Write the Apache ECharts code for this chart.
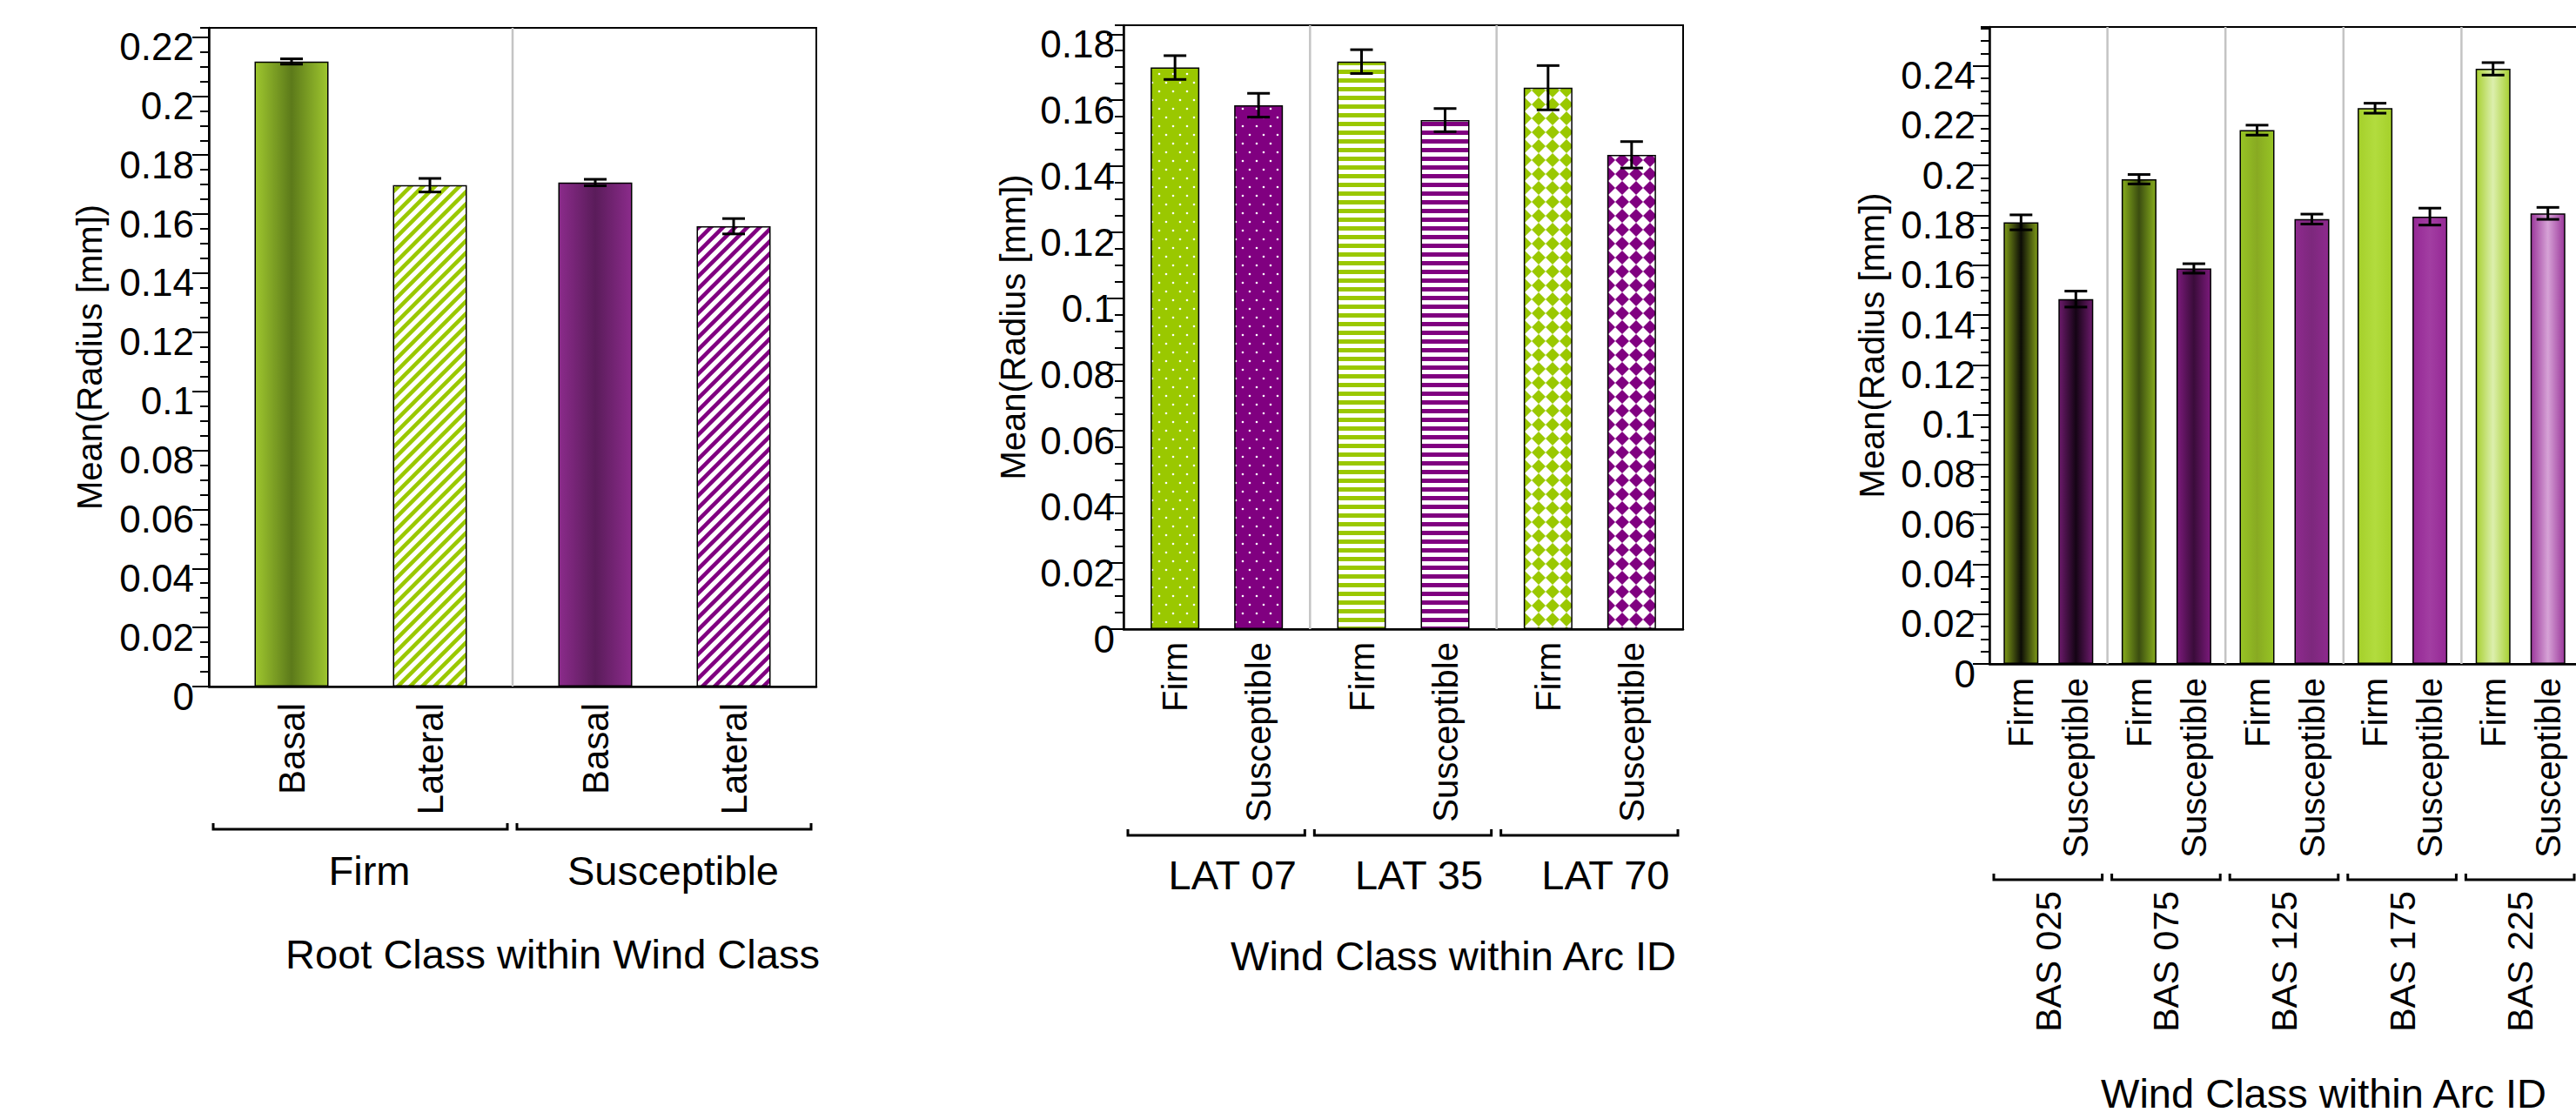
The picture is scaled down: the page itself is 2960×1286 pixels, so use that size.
<!DOCTYPE html>
<html><head><meta charset="utf-8">
<script src="https://cdn.jsdelivr.net/npm/echarts@6/dist/echarts.min.js"></script>
<style>html,body{margin:0;padding:0;background:#fff}#c{width:2960px;height:1286px}</style>
</head><body><div id="c"></div>
<script>
// ---------------- data ----------------
const p1Groups = ['Firm', 'Susceptible'];
const p1SubLabels = ['Basal', 'Lateral'];
const p1BasalMean = [0.2117, 0.1707];
const p1BasalErr = [0.0009, 0.0011];
const p1LateralMean = [0.1698, 0.1559];
const p1LateralErr = [0.0023, 0.0026];

const p2Groups = ['LAT 07', 'LAT 35', 'LAT 70'];
const p2SubLabels = ['Firm', 'Susceptible'];
const p2FirmMean = [0.1699, 0.1717, 0.1638];
const p2FirmErr = [0.0036, 0.0036, 0.0067];
const p2SuscMean = [0.1585, 0.1540, 0.1435];
const p2SuscErr = [0.0036, 0.0035, 0.0040];

const p3Groups = ['BAS 025', 'BAS 075', 'BAS 125', 'BAS 175', 'BAS 225'];
const p3SubLabels = ['Firm', 'Susceptible'];
const p3FirmMean = [0.1772, 0.1945, 0.2142, 0.2230, 0.2388];
const p3FirmErr = [0.0030, 0.0019, 0.0020, 0.0020, 0.0025];
const p3SuscMean = [0.1464, 0.1587, 0.1785, 0.1795, 0.1808];
const p3SuscErr = [0.0032, 0.0019, 0.0020, 0.0034, 0.0024];

const yTitle = 'Mean(Radius [mm])';
const xTitles = ['Root Class within Wind Class', 'Wind Class within Arc ID', 'Wind Class within Arc ID'];
const yMax = [0.2231, 0.1827, 0.2556];

// ---------------- styles ----------------
const FONT = '"Liberation Sans", Arial, Helvetica, sans-serif';
const GREEN = '#9ac800', PURPLE = '#800080';

function tile(w, h, draw) {
  const c = document.createElement('canvas'); c.width = w; c.height = h;
  draw(c.getContext('2d'));
  return { image: c.toDataURL(), repeat: 'repeat', imageWidth: w, imageHeight: h };
}
function diag(col) {
  return tile(14, 14, g => {
    g.fillStyle = '#fff'; g.fillRect(0, 0, 14, 14);
    g.strokeStyle = col; g.lineWidth = 4.5; g.beginPath();
    g.moveTo(-7, 7); g.lineTo(7, -7); g.moveTo(0, 14); g.lineTo(14, 0); g.moveTo(7, 21); g.lineTo(21, 7);
    g.stroke();
  });
}
function dots(col) {
  return tile(16, 20, g => {
    g.fillStyle = col; g.fillRect(0, 0, 16, 20); g.fillStyle = '#fff';
    [[4, 5], [12, 15]].forEach(p => { g.beginPath(); g.arc(p[0], p[1], 1.3, 0, Math.PI * 2); g.fill(); });
  });
}
function hstripe(col) {
  return tile(8, 10, g => { g.fillStyle = '#fff'; g.fillRect(0, 0, 8, 10); g.fillStyle = col; g.fillRect(0, 0, 8, 5); });
}
function diamonds(col) {
  return tile(16, 16, g => {
    g.fillStyle = '#fff'; g.fillRect(0, 0, 16, 16); g.fillStyle = col; g.beginPath();
    g.moveTo(8, 0); g.lineTo(16, 8); g.lineTo(8, 16); g.lineTo(0, 8); g.closePath(); g.fill();
  });
}
function conc(edge, center) {
  return new echarts.graphic.LinearGradient(0, 0, 1, 0, [
    { offset: 0, color: edge }, { offset: 0.5, color: center }, { offset: 1, color: edge }]);
}

const panels = [
  {
    grid: { left: 240, top: 32, width: 698, height: 757 },
    groups: p1Groups, subs: p1SubLabels,
    means: [p1BasalMean, p1LateralMean], errs: [p1BasalErr, p1LateralErr],
    fills: [[conc('#9ec62e', '#5c7a1a'), conc('#8b2b8b', '#5a1c5a')], [diag(GREEN), diag(PURPLE)]],
    barWidth: 85, spacing: 159, subFont: 42, subGap: 19,
    groupMargin: 188, groupRotate: 0, groupShift: 10, groupFont: 47,
    bracketDy: 164, labelMargin: 17, nameGap: 117,
    title: [635, 1096]
  },
  {
    grid: { left: 1291, top: 29, width: 643, height: 694 },
    groups: p2Groups, subs: p2SubLabels,
    means: [p2FirmMean, p2SuscMean], errs: [p2FirmErr, p2SuscErr],
    fills: [[dots(GREEN), hstripe(GREEN), diamonds(GREEN)], [dots(PURPLE), hstripe(PURPLE), diamonds(PURPLE)]],
    barWidth: 56, spacing: 96, subFont: 40, subGap: 15,
    groupMargin: 259, groupRotate: 0, groupShift: 18, groupFont: 47,
    bracketDy: 237, labelMargin: 10, nameGap: 107,
    title: [1670, 1098]
  },
  {
    grid: { left: 2286, top: 31, width: 678, height: 732 },
    groups: p3Groups, subs: p3SubLabels,
    means: [p3FirmMean, p3SuscMean], errs: [p3FirmErr, p3SuscErr],
    fills: [
      [conc('#7f9c18', '#0c0c06'), conc('#86ac1c', '#3b4d10'), conc('#97c424', '#88aa22'), conc('#a5d02a', '#b2dc3e'), conc('#a8d032', '#dcefad')],
      [conc('#6c1a6c', '#140414'), conc('#7c1a7c', '#3a0c3a'), conc('#8e2a8e', '#7d287d'), conc('#952895', '#a23ea2'), conc('#9b389b', '#d6a2d6')]],
    barWidth: 40, spacing: 63, subFont: 40, subGap: 16,
    groupMargin: 261, groupRotate: 90, groupShift: 0, groupFont: 41,
    bracketDy: 248, labelMargin: 16, nameGap: 115,
    title: [2670, 1256]
  }
];

const grids = [], xAxes = [], yAxes = [], series = [], graphics = [];
panels.forEach((p, i) => {
  const M = yMax[i];
  grids.push(Object.assign({ show: true, borderColor: '#000', borderWidth: 2, containLabel: false, outerBoundsMode: 'none' }, p.grid));
  xAxes.push({
    gridIndex: i, type: 'category', data: p.groups, position: 'bottom',
    axisLine: { show: true, lineStyle: { color: '#000', width: 2.5 } },
    axisTick: { show: false }, splitLine: { show: false },
    axisLabel: {
      interval: 0, margin: p.groupMargin, rotate: p.groupRotate, color: '#000',
      fontSize: p.groupFont, fontFamily: FONT, padding: [0, 0, 0, 2 * p.groupShift]
    }
  });
  yAxes.push({
    gridIndex: i, type: 'value', position: 'left', offset: 0, min: 0, max: M, interval: 0.005,
    axisLine: { show: false }, axisLabel: { show: false }, splitLine: { show: false },
    axisTick: { show: true, length: 10, lineStyle: { color: '#000', width: 2 } }
  });
  yAxes.push({
    gridIndex: i, type: 'value', position: 'left', offset: 0, min: 0, max: M, interval: 0.02,
    axisLine: { show: true, lineStyle: { color: '#000', width: 2.5 } },
    axisTick: { show: true, length: 19, lineStyle: { color: '#000', width: 2 } },
    splitLine: { show: false },
    axisLabel: {
      color: '#000', fontSize: 44, fontFamily: FONT, margin: p.labelMargin, showMaxLabel: false,
      verticalAlign: 'top', lineHeight: 22
    },
    name: yTitle, nameLocation: 'middle', nameGap: p.nameGap,
    nameTextStyle: { color: '#000', fontSize: 40, fontFamily: FONT }
  });
  const yi = 2 * i + 1;
  // separators between groups
  series.push({
    type: 'custom', xAxisIndex: i, yAxisIndex: yi, z: 1, clip: false, silent: true,
    data: p.groups.map((_, g) => [g, 0]).slice(1), encode: { x: 0, y: 1 },
    renderItem: (params, api) => {
      const g = api.value(0);
      const c0 = api.coord([g, 0]);
      const bw = api.size([1, 0])[0];
      const top = api.coord([g, M])[1];
      const x = c0[0] - bw / 2;
      return { type: 'line', shape: { x1: x, y1: c0[1], x2: x, y2: top }, style: { stroke: '#c4c4c4', lineWidth: 2.5 } };
    }
  });
  // bars
  const gapRatio = (p.spacing - p.barWidth) / p.barWidth;
  p.means.forEach((arr, s) => {
    series.push({
      type: 'bar', name: p.subs[s], xAxisIndex: i, yAxisIndex: yi, z: 2,
      barWidth: p.barWidth, barGap: (gapRatio * 100).toFixed(2) + '%',
      itemStyle: { borderColor: '#000', borderWidth: 1.5 },
      data: arr.map((v, g) => ({ value: v, itemStyle: { color: p.fills[s][g] } }))
    });
  });
  // error bars
  const errRows = [];
  p.means.forEach((arr, s) => arr.forEach((v, g) => errRows.push([g, v, p.errs[s][g], s])));
  series.push({
    type: 'custom', xAxisIndex: i, yAxisIndex: yi, z: 4, clip: false, silent: true,
    data: errRows, encode: { x: 0, y: 1 },
    renderItem: (params, api) => {
      const g = api.value(0), v = api.value(1), e = api.value(2), s = api.value(3);
      const x = api.coord([g, v])[0] + (s === 0 ? -1 : 1) * p.spacing / 2;
      const y1 = api.coord([g, v + e])[1], y2 = api.coord([g, v - e])[1];
      const st = { stroke: '#000', lineWidth: 3 };
      return {
        type: 'group', children: [
          { type: 'line', shape: { x1: x, y1: y1, x2: x, y2: y2 }, style: st },
          { type: 'line', shape: { x1: x - 13, y1: y1, x2: x + 13, y2: y1 }, style: st },
          { type: 'line', shape: { x1: x - 13, y1: y2, x2: x + 13, y2: y2 }, style: st }
        ]
      };
    }
  });
  // sub labels + brackets
  series.push({
    type: 'custom', xAxisIndex: i, yAxisIndex: yi, z: 4, clip: false, silent: true,
    data: p.groups.map((_, g) => [g, 0]), encode: { x: 0, y: 1 },
    renderItem: (params, api) => {
      const g = api.value(0);
      const c0 = api.coord([g, 0]);
      const bw = api.size([1, 0])[0];
      const children = [];
      p.subs.forEach((lab, s) => {
        const x = c0[0] + (s === 0 ? -1 : 1) * p.spacing / 2;
        const y = c0[1] + p.subGap;
        children.push({
          type: 'text', x: x, y: y, rotation: Math.PI / 2,
          style: { text: lab, font: p.subFont + 'px ' + FONT, fill: '#000', align: 'right', verticalAlign: 'middle', textAlign: 'right', textVerticalAlign: 'middle' }
        });
      });
      const yb = c0[1] + p.bracketDy;
      const xl = c0[0] - bw / 2 + 5, xr = c0[0] + bw / 2 - 6;
      children.push({
        type: 'polyline', shape: { points: [[xl, yb - 7], [xl, yb], [xr, yb], [xr, yb - 7]] },
        style: { stroke: '#000', lineWidth: 3, fill: null }
      });
      return { type: 'group', children: children };
    }
  });
  graphics.push({
    type: 'text', x: p.title[0], y: p.title[1],
    style: { text: xTitles[i], font: '47px ' + FONT, fill: '#000', align: 'center', verticalAlign: 'middle', textAlign: 'center', textVerticalAlign: 'middle' }
  });
});

const chart = echarts.init(document.getElementById('c'), null, { renderer: 'svg' });
chart.setOption({
  backgroundColor: '#fff',
  animation: false,
  textStyle: { fontFamily: FONT },
  grid: grids, xAxis: xAxes, yAxis: yAxes, series: series, graphic: graphics
});
</script>
</body></html>
